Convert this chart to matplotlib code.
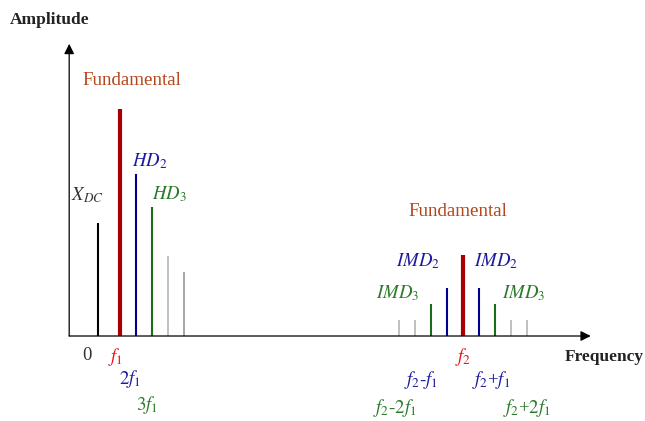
import matplotlib
matplotlib.use("Agg")
import matplotlib.pyplot as plt

plt.rcParams['font.family'] = ['Liberation Serif', 'DejaVu Serif']
plt.rcParams['mathtext.fontset'] = 'stix'

# 频谱数据（任意单位）
left_freqs = [0.0, 1.4, 2.4, 3.4, 4.4, 5.4]
left_amps = [3.53, 7.09, 5.06, 4.03, 2.5, 2.0]
left_colors = ['#000000', '#A80000', '#00008C', '#1B6B1B', '#BBBBBB', '#A0A0A0']
left_widths = [1.5, 3.0, 1.5, 1.5, 1.3, 1.3]

f2 = 22.8
right_offsets = [-4, -3, -2, -1, 0, 1, 2, 3, 4]
right_amps = [0.5, 0.5, 1.0, 1.5, 2.53, 1.5, 1.0, 0.5, 0.5]
right_colors = ['#BBBBBB', '#BBBBBB', '#1B6B1B', '#00008C', '#A80000',
                '#00008C', '#1B6B1B', '#BBBBBB', '#BBBBBB']
right_widths = [1.3, 1.3, 1.5, 1.5, 3.0, 1.5, 1.5, 1.3, 1.3]

fig = plt.figure(figsize=(6.45, 4.21), dpi=100)
ax = fig.add_axes([0, 0, 1, 1])
ax.set_xlim(-6.125, 34.19)
ax.set_ylim(-2.656, 10.5)
ax.axis('off')

# 坐标轴箭头
x0, y_top, x_end = -1.8, 9.13, 30.8
for tip in [(x0, y_top), (x_end, 0)]:
    ax.annotate('', xy=tip, xytext=(x0, 0),
                arrowprops=dict(arrowstyle='-|>', color='black', lw=0.9,
                                mutation_scale=15, shrinkA=0, shrinkB=0))

# 谱线
for f, a, c, w in zip(left_freqs, left_amps, left_colors, left_widths):
    ax.vlines(f, 0, a, colors=c, linewidth=w)
right_freqs = [f2 + o for o in right_offsets]
for f, a, c, w in zip(right_freqs, right_amps, right_colors, right_widths):
    ax.vlines(f, 0, a, colors=c, linewidth=w)

blue_t = '#1C1C9C'
green_t = '#2A7A2A'
brown = '#B5451B'
red_t = '#F01010'
fs = 13.5

# 轴标题
ax.text(-5.5, 9.86, 'Amplitude', fontsize=12.5, fontweight='bold', color='#222222',
        ha='left', va='center')
ax.text(34.1, -0.66, 'Frequency', fontsize=12.5, fontweight='bold', color='#222222',
        ha='right', va='center')

# 上方标注
ax.text(-1.0, 8.0, 'Fundamental', fontsize=13.7, color=brown, ha='left', va='center')
ax.text(f2 - 0.3, 3.9, 'Fundamental', fontsize=13.7, color=brown, ha='center', va='center')
ax.text(-0.7, 4.4, '$X_{DC}$', fontsize=fs, color='#333333', ha='center', va='center')
ax.text(2.1, 5.45, '$HD_2$', fontsize=fs, color=blue_t, ha='left', va='center')
ax.text(3.4, 4.43, '$HD_3$', fontsize=fs, color=green_t, ha='left', va='center')
ax.text(f2 - 1.4, 2.35, '$IMD_2$', fontsize=fs, color=blue_t, ha='right', va='center')
ax.text(f2 + 0.7, 2.35, '$IMD_2$', fontsize=fs, color=blue_t, ha='left', va='center')
ax.text(f2 - 2.7, 1.33, '$IMD_3$', fontsize=fs, color=green_t, ha='right', va='center')
ax.text(f2 + 2.45, 1.33, '$IMD_3$', fontsize=fs, color=green_t, ha='left', va='center')

# 下方频率标注
ax.text(-0.7, -0.6, '0', fontsize=fs, color='#333333', ha='center', va='center')
ax.text(1.1, -0.66, '$f_1$', fontsize=fs, color=red_t, ha='center', va='center')
ax.text(2.0, -1.33, '$2f_1$', fontsize=fs, color=blue_t, ha='center', va='center')
ax.text(3.06, -2.16, '$3f_1$', fontsize=fs, color=green_t, ha='center', va='center')
ax.text(f2, -0.66, '$f_2$', fontsize=fs, color=red_t, ha='center', va='center')
ax.text(f2 - 2.6, -1.38, '$f_2$-$f_1$', fontsize=fs, color=blue_t, ha='center', va='center')
ax.text(f2 + 1.76, -1.38, '$f_2$+$f_1$', fontsize=fs, color=blue_t, ha='center', va='center')
ax.text(f2 - 4.24, -2.25, '$f_2$-$2f_1$', fontsize=fs, color=green_t, ha='center', va='center')
ax.text(f2 + 4.0, -2.25, '$f_2$+$2f_1$', fontsize=fs, color=green_t, ha='center', va='center')

fig.savefig('out.png', dpi=100, facecolor='white')
